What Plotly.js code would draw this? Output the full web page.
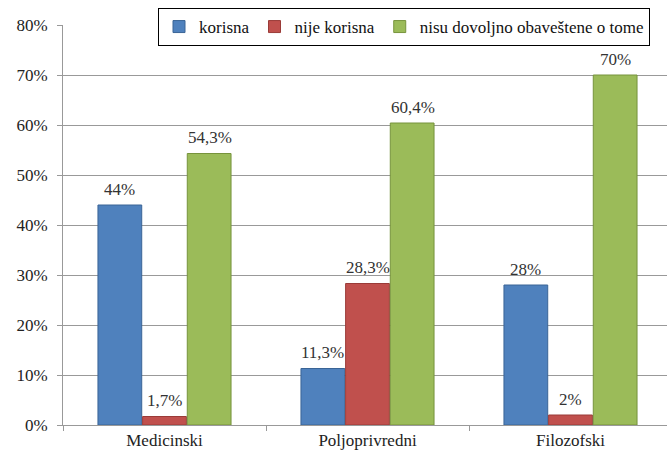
<!DOCTYPE html>
<html>
<head>
<meta charset="utf-8">
<script src="https://cdn.plot.ly/plotly-3.0.1.min.js"></script>
<style>
html,body{margin:0;padding:0;overflow:hidden;background:#fff;}
#chart{width:672px;height:455px;}
#chart svg text{font-family:"Liberation Serif","Times New Roman",serif !important;}
</style>
</head>
<body>
<div id="chart"></div>
<script>
const categories = ["Medicinski", "Poljoprivredni", "Filozofski"];
const seriesNames = ["korisna", "nije korisna", "nisu dovoljno obaveštene o tome"];
const korisna = [44, 11.3, 28];
const nijeKorisna = [1.7, 28.3, 2];
const nisuObavestene = [54.3, 60.4, 70];
const yTickVals = [0, 10, 20, 30, 40, 50, 60, 70, 80];

const colors = ["#4F81BD", "#C0504D", "#9BBB59"];
const lineColors = ["#3A6496", "#9A3B38", "#77933C"];
const FONT = 'Liberation Serif, serif';

function fmt(v) { return String(v).replace('.', ',') + '%'; }

const values = [korisna, nijeKorisna, nisuObavestene];
const traces = values.map((vals, i) => ({
  type: 'bar',
  name: seriesNames[i],
  x: categories,
  y: vals,
  marker: {color: colors[i], line: {color: lineColors[i], width: 1}},
  hoverinfo: 'skip'
}));

const annotations = [];
values.forEach((vals, i) => {
  vals.forEach((v, j) => {
    annotations.push({
      x: categories[j], y: v, xref: 'x', yref: 'y',
      xshift: (i - 1) * 45,
      yshift: 16,
      text: fmt(v), showarrow: false,
      font: {family: FONT, size: 17, color: '#333'}
    });
  });
});

const layout = {
  width: 672,
  height: 455,
  margin: {l: 63, r: 0, t: 25, b: 30},
  paper_bgcolor: '#fff',
  plot_bgcolor: '#fff',
  font: {family: FONT, size: 17, color: '#222'},
  barmode: 'group',
  bargap: 0.34,
  bargroupgap: 0.02,
  showlegend: true,
  annotations: annotations,
  legend: {
    orientation: 'h',
    x: 0.156, xanchor: 'left',
    y: 1.0425, yanchor: 'top',
    bgcolor: '#fff',
    bordercolor: '#000',
    borderwidth: 1,
    font: {family: FONT, size: 17, color: '#111'},
    itemwidth: 30,
    traceorder: 'normal'
  },
  xaxis: {
    type: 'category',
    showline: true,
    linecolor: '#999',
    linewidth: 1,
    ticks: 'outside',
    tickson: 'boundaries',
    ticklen: 5,
    tickcolor: '#999',
    showgrid: false,
    tickfont: {family: FONT, size: 17, color: '#222'}
  },
  yaxis: {
    range: [0, 80],
    tickvals: yTickVals,
    ticktext: yTickVals.map(v => v + '%'),
    showline: true,
    linecolor: '#999',
    linewidth: 1,
    ticks: 'outside',
    ticklen: 5,
    tickcolor: '#999',
    ticklabelstandoff: 6,
    showgrid: true,
    gridcolor: '#999',
    gridwidth: 1,
    zeroline: false,
    tickfont: {family: FONT, size: 17, color: '#222'}
  }
};

Plotly.newPlot('chart', traces, layout, {staticPlot: true, displayModeBar: false});
</script>
</body>
</html>
